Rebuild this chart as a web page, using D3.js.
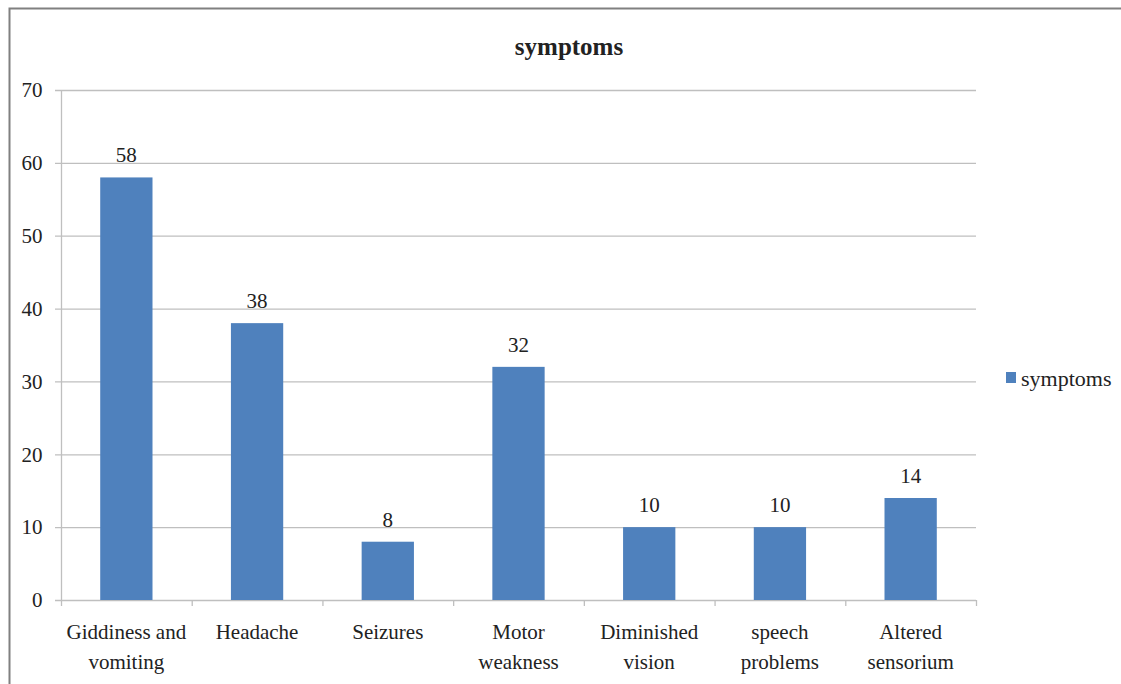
<!DOCTYPE html>
<html><head><meta charset="utf-8">
<script src="https://cdn.jsdelivr.net/npm/d3@7"></script>
<style>body{margin:0;background:#fff}svg{display:block}</style>
</head><body>
<svg id="c" width="1121" height="684" style="font-family:'Liberation Serif','DejaVu Serif',serif"></svg>
<script>
const categories = [["Giddiness and","vomiting"],["Headache"],["Seizures"],["Motor","weakness"],["Diminished","vision"],["speech","problems"],["Altered","sensorium"]];
const values = [58, 38, 8, 32, 10, 10, 14];
const yTicks = [0,10,20,30,40,50,60,70];
const seriesName = "symptoms";

(function(){
const FONT = "'Liberation Serif','DejaVu Serif',serif";
const svg = d3.select("#c");
svg.append("path").attr("d","M9.5,684 L9.5,8.5 L1121,8.5").attr("fill","none").attr("stroke","#808080").attr("stroke-width",2);

const pL = 61, pR = 976, pT = 90, pB = 600;
const x = d3.scaleBand().domain(d3.range(categories.length)).range([pL,pR]).paddingInner(0.6).paddingOuter(0.3);
const y = d3.scaleLinear().domain([0,70]).range([pB,pT]);

svg.append("g").selectAll("line").data(yTicks).join("line")
  .attr("x1",pL-6).attr("x2",pR).attr("y1",d=>y(d)+0.5).attr("y2",d=>y(d)+0.5)
  .attr("stroke","#bfbfbf").attr("stroke-width",1.3);

const ya = svg.append("g").attr("transform",`translate(${pL+0.5},0)`).call(d3.axisLeft(y).tickValues(yTicks).tickSize(6).tickPadding(13));
ya.attr("font-family",FONT).attr("font-size",21);
ya.select(".domain").attr("stroke","#bfbfbf").attr("stroke-width",1.3).attr("d",`M0,${pT}V${pB}`);
ya.selectAll(".tick line").remove();
ya.selectAll("text").attr("fill","#222");

const step = (pR-pL)/categories.length;
svg.append("g").selectAll("line").data(d3.range(categories.length+1)).join("line")
  .attr("x1",i=>pL+i*step+0.5).attr("x2",i=>pL+i*step+0.5).attr("y1",pB).attr("y2",pB+6)
  .attr("stroke","#bfbfbf").attr("stroke-width",1.3);

svg.append("g").selectAll("rect").data(values).join("rect")
  .attr("x",(d,i)=>x(i)).attr("width",x.bandwidth()).attr("y",d=>y(d)).attr("height",d=>y(0)-y(d))
  .attr("fill","#4f81bd");

const T = sel => sel.attr("font-family",FONT).attr("fill","#222");

svg.append("g").selectAll("text").data(values).join("text").call(T)
  .attr("x",(d,i)=>x(i)+x.bandwidth()/2).attr("y",d=>y(d)-15).attr("text-anchor","middle")
  .attr("font-size",21).text(d=>d);

const cl = svg.append("g").selectAll("text").data(categories).join("text").call(T)
  .attr("x",(d,i)=>x(i)+x.bandwidth()/2).attr("y",639).attr("text-anchor","middle").attr("font-size",21);
cl.selectAll("tspan").data(d=>d).join("tspan").attr("x",function(){return this.parentNode.getAttribute("x");})
  .attr("dy",(d,j)=>j===0?0:30).text(d=>d);

svg.append("text").call(T).attr("x",569).attr("y",55).attr("text-anchor","middle").attr("font-size",25).attr("font-weight","bold").text(seriesName);

svg.append("rect").attr("x",1006).attr("y",372).attr("width",10).attr("height",11).attr("fill","#4f81bd");
svg.append("text").call(T).attr("x",1021).attr("y",386).attr("font-size",22).text(seriesName);
})();
</script>
</body></html>
